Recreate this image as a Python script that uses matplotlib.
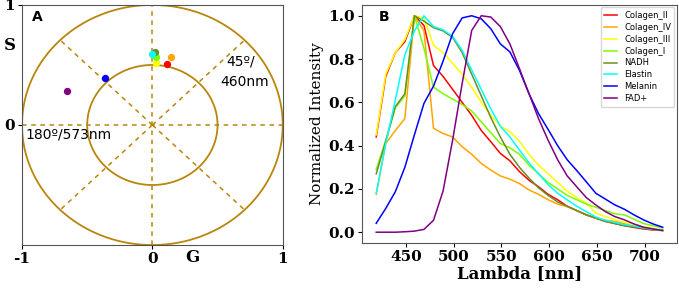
import numpy as np
import matplotlib
matplotlib.use("Agg")
import matplotlib.pyplot as plt

# phasor points (G, S)
names = ["Colagen_II", "Colagen_IV", "Colagen_III", "Colagen_I", "NADH", "Elastin", "Melanin", "FAD+"]
colors = ["red", "orange", "yellow", "lawngreen", "olivedrab", "cyan", "blue", "purple"]
g_vals = [0.11, 0.146, 0.025, 0.03, 0.018, 0.0, -0.36, -0.654]
s_vals = [0.51, 0.57, 0.52, 0.567, 0.61, 0.59, 0.394, 0.286]

# emission spectra
lam = [419, 429, 439, 449, 459, 469, 479, 489, 499, 509, 519, 529, 539, 549, 559, 569,
       579, 589, 599, 609, 619, 629, 639, 649, 659, 669, 679, 689, 699, 709, 719]
colagen_ii = [0.44, 0.72, 0.83, 0.88, 1.0, 0.955, 0.77, 0.72, 0.66, 0.6, 0.54, 0.47, 0.418, 0.364, 0.33, 0.28,
              0.24, 0.21, 0.175, 0.15, 0.12, 0.1, 0.08, 0.065, 0.05, 0.04, 0.03, 0.022, 0.015, 0.01, 0.008]
colagen_iv = [0.175, 0.41, 0.47, 0.525, 1.0, 0.93, 0.48, 0.456, 0.44, 0.395, 0.36, 0.318, 0.287, 0.26, 0.245, 0.225,
              0.195, 0.175, 0.15, 0.13, 0.118, 0.1, 0.08, 0.065, 0.055, 0.05, 0.04, 0.03, 0.02, 0.012, 0.008]
colagen_iii = [0.45, 0.73, 0.83, 0.89, 1.0, 0.99, 0.863, 0.83, 0.78, 0.73, 0.67, 0.6, 0.54, 0.49, 0.465, 0.42,
               0.36, 0.31, 0.27, 0.23, 0.19, 0.16, 0.135, 0.088, 0.072, 0.057, 0.045, 0.034, 0.025, 0.018, 0.011]
colagen_i = [0.29, 0.425, 0.575, 0.63, 1.0, 0.85, 0.67, 0.64, 0.615, 0.59, 0.56, 0.51, 0.46, 0.41, 0.39, 0.36,
             0.31, 0.27, 0.23, 0.2, 0.17, 0.15, 0.13, 0.115, 0.1, 0.085, 0.08, 0.06, 0.04, 0.03, 0.02]
nadh = [0.27, 0.42, 0.58, 0.64, 1.0, 0.975, 0.945, 0.93, 0.9, 0.83, 0.73, 0.63, 0.53, 0.44, 0.36, 0.3,
        0.25, 0.205, 0.17, 0.14, 0.12, 0.1, 0.08, 0.065, 0.05, 0.04, 0.03, 0.025, 0.018, 0.012, 0.008]
elastin = [0.18, 0.41, 0.61, 0.82, 0.93, 1.0, 0.95, 0.935, 0.905, 0.84, 0.75, 0.66, 0.57, 0.49, 0.44, 0.38,
           0.32, 0.27, 0.22, 0.18, 0.15, 0.12, 0.095, 0.07, 0.055, 0.045, 0.035, 0.028, 0.02, 0.014, 0.01]
melanin = [0.041, 0.11, 0.187, 0.3, 0.45, 0.595, 0.675, 0.79, 0.917, 0.99, 1.0, 0.986, 0.94, 0.87, 0.833, 0.748,
           0.64, 0.548, 0.475, 0.4, 0.335, 0.285, 0.233, 0.18, 0.153, 0.126, 0.106, 0.08, 0.057, 0.038, 0.023]
fad = [0.0, 0.0, 0.0, 0.002, 0.005, 0.013, 0.055, 0.19, 0.425, 0.687, 0.932, 1.0, 0.994, 0.95, 0.87, 0.756,
       0.64, 0.525, 0.425, 0.335, 0.26, 0.21, 0.16, 0.126, 0.095, 0.072, 0.057, 0.038, 0.023, 0.015, 0.008]
spectra = [colagen_ii, colagen_iv, colagen_iii, colagen_i, nadh, elastin, melanin, fad]

gold = "#B8860B"
serif = "DejaVu Serif"

fig = plt.figure(figsize=(6.79, 2.90), dpi=100)

# ---- panel A: phasor plot
ax1 = fig.add_axes([0.0324, 0.155, 0.384, 0.828])
t = np.linspace(0, 2 * np.pi, 400)
ax1.plot(np.cos(t), np.sin(t), color=gold, lw=1.3)
ax1.plot(0.5 * np.cos(t), 0.5 * np.sin(t), color=gold, lw=1.3)
dash = dict(color=gold, lw=1.1, ls=(0, (3, 3)))
ax1.plot([-1, 1], [0, 0], **dash)
ax1.plot([0, 0], [-1, 1], **dash)
for a in [45, 135, 225, 315]:
    r = np.deg2rad(a)
    ax1.plot([0, np.cos(r)], [0, np.sin(r)], **dash)
for g, s, c in zip(g_vals, s_vals, colors):
    ax1.scatter(g, s, color=c, s=18, zorder=5)
ax1.text(0.57, 0.53, "45º/", fontsize=10, ha="left", va="center")
ax1.text(0.52, 0.36, "460nm", fontsize=10, ha="left", va="center")
ax1.text(-0.97, -0.08, "180º/573nm", fontsize=10, ha="left", va="center")
ax1.text(0.04, 0.95, "A", transform=ax1.transAxes, fontsize=10, fontweight="bold", va="center")
ax1.text(-0.046, 0.83, "S", transform=ax1.transAxes, fontsize=12, family=serif, fontweight="bold",
         ha="center", va="center")
ax1.text(0.655, -0.05, "G", transform=ax1.transAxes, fontsize=12, family=serif, fontweight="bold",
         ha="center", va="center")
ax1.set_xlim(-1, 1)
ax1.set_ylim(-1, 1)
ax1.set_xticks([-1, 0, 1])
ax1.set_xticklabels(["-1", "0", "1"])
ax1.set_yticks([0, 1])
ax1.set_yticklabels(["0", "1"])
for lab in ax1.get_xticklabels() + ax1.get_yticklabels():
    lab.set_family(serif)
    lab.set_fontweight("bold")
    lab.set_fontsize(11)
ax1.tick_params(length=3, pad=2)
for sp in ax1.spines.values():
    sp.set_color("#555555")

# ---- panel B: spectra
ax2 = fig.add_axes([0.533, 0.162, 0.464, 0.821])
for name, c, y in zip(names, colors, spectra):
    ax2.plot(lam, y, color=c, lw=1.1, label=name)
ax2.set_xticks([450, 500, 550, 600, 650, 700])
ax2.set_yticks([0.0, 0.2, 0.4, 0.6, 0.8, 1.0])
for lab in ax2.get_xticklabels() + ax2.get_yticklabels():
    lab.set_family(serif)
    lab.set_fontweight("bold")
    lab.set_fontsize(11)
ax2.set_xlabel("Lambda [nm]", family=serif, fontweight="bold", fontsize=12, labelpad=1)
ax2.set_ylabel("Normalized Intensity", family=serif, fontsize=11, labelpad=3)
ax2.text(0.054, 0.95, "B", transform=ax2.transAxes, fontsize=10, fontweight="bold", va="center")
ax2.legend(loc="upper right", fontsize=6, labelspacing=0.35, handlelength=1.6, borderaxespad=0.3)
ax2.tick_params(length=3, pad=2)
for sp in ax2.spines.values():
    sp.set_color("#555555")

fig.savefig("out.png", dpi=100)
